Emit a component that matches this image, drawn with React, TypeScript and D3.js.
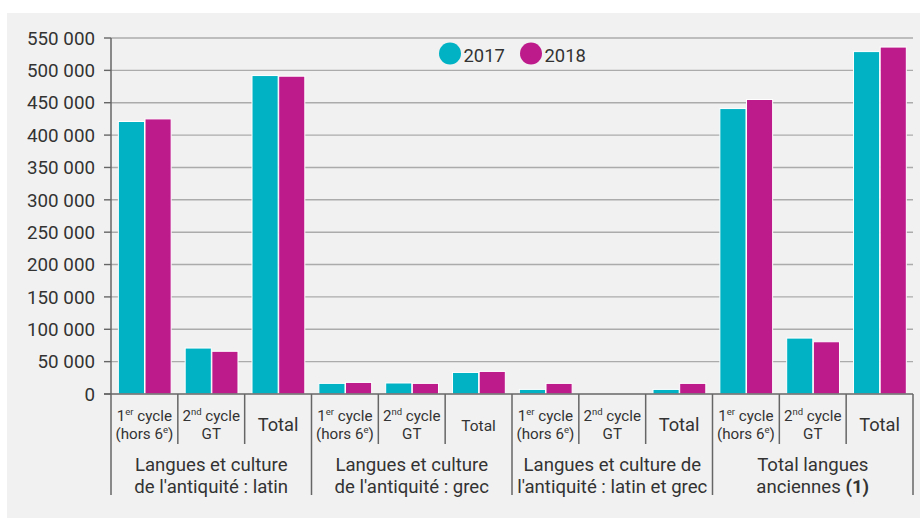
import React from "react";
import * as d3 from "d3";

const groups = [
  ["Langues et culture", "de l'antiquité : latin"],
  ["Langues et culture", "de l'antiquité : grec"],
  ["Langues et culture de", "l'antiquité : latin et grec"],
  ["Total langues", "anciennes"],
];
const subLabels = ["1er", "2nd", "Total"];
const series = ["2017", "2018"];
const values2017 = [421000, 71000, 492000, 16400, 17000, 33300, 7100, 0, 7100, 441000, 86400, 529000];
const values2018 = [425000, 66000, 491000, 17900, 16400, 34900, 16400, 0, 16400, 455000, 80700, 536000];
const yTicks = [0, 50000, 100000, 150000, 200000, 250000, 300000, 350000, 400000, 450000, 500000, 550000];

const colors = { "2017": "#00b2c4", "2018": "#bd1b8c" };
const FONT = "Roboto, 'Noto Sans', sans-serif";
const TXT = "#333";

export default function App() {
  const W = 920, H = 518;
  const left = 111, right = 913, top = 38, bottom = 394;
  const slots = d3.range(groups.length * subLabels.length).map(String);
  const x0 = d3.scaleBand<string>().domain(slots).range([left, right]);
  const xg = d3.scaleBand<string>().domain(groups.map((_, i) => String(i))).range([left, right]);
  const bw = x0.bandwidth();
  const x1 = d3.scaleBand<string>().domain(series).range([bw * 0.11, bw * 0.9]).paddingInner(0.02);
  const y = d3.scaleLinear().domain([0, 550000]).range([bottom, top]);
  const fmt = (v: number) => d3.format(",")(v).replace(/,/g, " ");
  const vals: Record<string, number[]> = { "2017": values2017, "2018": values2018 };

  const slotLabel = (si: number, gi: number, cx: number) => {
    const kind = subLabels[si];
    if (kind === "Total") {
      const fs = gi === 1 ? 15.5 : 18.3;
      return (
        <text x={cx} y={431} textAnchor="middle" fontSize={fs} fill={TXT}>Total</text>
      );
    }
    if (kind === "1er") {
      return (
        <g>
          <text x={cx} y={420.5} textAnchor="middle" fontSize={15.2} fill={TXT}>
            <tspan>1</tspan><tspan fontSize={9.5} dy={-5.5}>er</tspan><tspan dy={5.5}> cycle</tspan>
          </text>
          <text x={cx} y={438.5} textAnchor="middle" fontSize={15.2} fill={TXT}>
            <tspan>(hors 6</tspan><tspan fontSize={9.5} dy={-5.5}>e</tspan><tspan dy={5.5}>)</tspan>
          </text>
        </g>
      );
    }
    return (
      <g>
        <text x={cx} y={420.5} textAnchor="middle" fontSize={15.2} fill={TXT}>
          <tspan>2</tspan><tspan fontSize={9.5} dy={-5.5}>nd</tspan><tspan dy={5.5}> cycle</tspan>
        </text>
        <text x={cx} y={438.5} textAnchor="middle" fontSize={15.2} fill={TXT}>GT</text>
      </g>
    );
  };

  return (
    <div style={{ position: "absolute", left: 0, top: 0 }}>
      <svg width={W} height={H} style={{ display: "block", fontFamily: FONT }}>
        <rect x={0} y={0} width={W} height={H} fill="#fff" />
        <rect x={7} y={13} width={W - 7} height={H - 13} fill="#f1f1f1" />
        {yTicks.map((t) => (
          <g key={t}>
            {t > 0 && (
              <line x1={left} x2={right} y1={y(t)} y2={y(t)} stroke={t === 550000 ? "#bdbdbd" : "#ababab"} strokeWidth={t === 550000 ? 2 : 1.4} />
            )}
            <line x1={left - 7} x2={left} y1={y(t)} y2={y(t)} stroke="#666" strokeWidth={1.4} />
            <text x={95} y={y(t)} dy="0.36em" textAnchor="end" fontSize={18.8} fill={TXT}>{fmt(t)}</text>
          </g>
        ))}
        {slots.map((s, i) => (
          <g key={s} transform={`translate(${x0(s)},0)`}>
            {series.map((k) => {
              const v = vals[k][i];
              if (!v) return null;
              return (
                <rect key={k} x={x1(k)} y={y(v)} width={x1.bandwidth()} height={bottom - y(v)} fill={colors[k]} stroke="#fff" strokeWidth={1} />
              );
            })}
          </g>
        ))}
        <line x1={left - 7} x2={right} y1={bottom} y2={bottom} stroke="#666" strokeWidth={1.5} />
        <line x1={left} x2={left} y1={top} y2={495} stroke="#666" strokeWidth={1.5} />
        {slots.map((s, i) => {
          const gi = Math.floor(i / subLabels.length);
          const si = i % subLabels.length;
          const xs = x0(s)!;
          return (
            <g key={"l" + s}>
              {si > 0 && <line x1={xs} x2={xs} y1={bottom} y2={444} stroke="#666" strokeWidth={1.5} />}
              {slotLabel(si, gi, xs + bw / 2)}
            </g>
          );
        })}
        {groups.map((g, gi) => {
          const gx = xg(String(gi))!;
          const cx = gx + xg.bandwidth() / 2;
          return (
            <g key={"g" + gi}>
              <line x1={gx + xg.bandwidth()} x2={gx + xg.bandwidth()} y1={bottom} y2={495} stroke="#666" strokeWidth={1.5} />
              <text x={cx} y={470.5} textAnchor="middle" fontSize={18.6} fill={TXT}>{g[0]}</text>
              <text x={cx} y={492.5} textAnchor="middle" fontSize={18.6} fill={TXT}>
                {g[1]}
                {gi === 3 && <tspan fontWeight="bold"> (1)</tspan>}
              </text>
            </g>
          );
        })}
        {series.map((k, i) => {
          const cx = i === 0 ? 450 : 531;
          return (
            <g key={"lg" + k}>
              <circle cx={cx} cy={53.5} r={11} fill={colors[k]} />
              <text x={cx + 13.5} y={61.5} fontSize={18.4} fill={TXT}>{k}</text>
            </g>
          );
        })}
      </svg>
    </div>
  );
}
